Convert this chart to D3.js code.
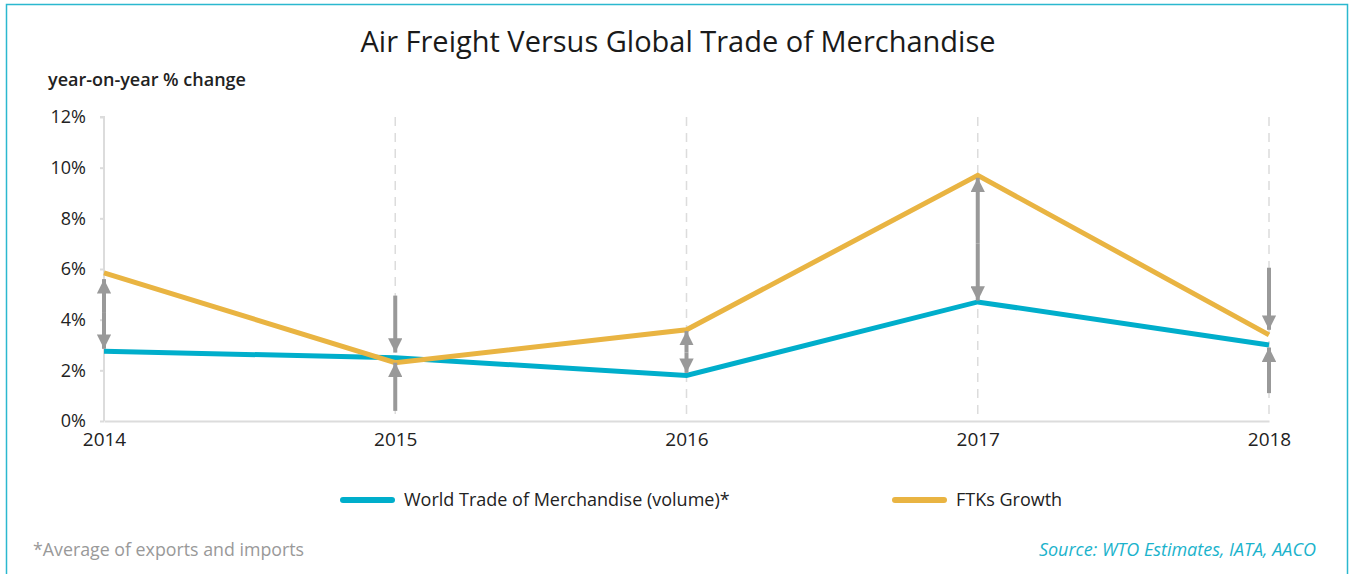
<!DOCTYPE html>
<html><head><meta charset="utf-8">
<script src="https://cdn.jsdelivr.net/npm/d3@7"></script>
<style>body{margin:0;background:#fff;}svg{display:block;font-family:"Open Sans","Noto Sans",sans-serif;}</style>
</head><body>
<svg id="c" width="1354" height="574"></svg>
<script>
const years = [2014, 2015, 2016, 2017, 2018];
const worldTrade = [2.75, 2.5, 1.8, 4.7, 3.0];
const ftks = [5.85, 2.3, 3.6, 9.7, 3.4];
const yTicks = [0, 2, 4, 6, 8, 10, 12];
// arrows: [yearIndex, from%, to%] ; drawn with head at "to"
const arrows = [
  [0, 4.3, 5.6], [0, 4.3, 2.85],
  [1, 4.95, 2.7], [1, 0.4, 2.3],
  [2, 2.7, 3.55], [2, 2.7, 1.9],
  [3, 7.0, 9.6], [3, 7.0, 4.75],
  [4, 6.05, 3.6], [4, 1.1, 2.9]
];
const colors = {trade: "#00AECB", ftk: "#E9B442", arrow: "#999999", grid: "#DCDCDC"};
const FONT = "'Open Sans', sans-serif";

const svg = d3.select("#c");
svg.append("rect").attr("x", 6.5).attr("y", 4.5).attr("width", 1341).attr("height", 600)
  .attr("fill", "none").attr("stroke", "#2BB8CF").attr("stroke-width", 1.5);

const x = d3.scalePoint().domain(years).range([104, 1269]);
const y = d3.scaleLinear().domain([0, 12]).range([421, 117]);

svg.append("text").attr("x", 678).attr("y", 52).attr("text-anchor", "middle")
  .attr("font-size", 29).attr("fill", "#1a1a1a").text("Air Freight Versus Global Trade of Merchandise");
svg.append("text").attr("x", 48).attr("y", 86).attr("font-size", 18).attr("font-weight", 600)
  .attr("fill", "#222").text("year-on-year % change");

svg.append("g").selectAll("line").data(years.slice(1)).join("line")
  .attr("x1", d => x(d)).attr("x2", d => x(d)).attr("y1", y(12)).attr("y2", y(0))
  .attr("stroke", colors.grid).attr("stroke-width", 1.5).attr("stroke-dasharray", "9,7");

const ya = svg.append("g").attr("transform", `translate(${x(2014)},0)`)
  .call(d3.axisLeft(y).tickValues(yTicks).tickFormat(d => d + "%").tickSize(4).tickPadding(14));
ya.select(".domain").attr("stroke", colors.grid).attr("stroke-width", 2).attr("d", `M-4,${y(12)}H0V${y(0)}`);
ya.selectAll(".tick line").attr("stroke", colors.grid).attr("stroke-width", 2);
ya.selectAll(".tick text").attr("font-size", 18).attr("fill", "#222").attr("font-family", FONT);

const xa = svg.append("g").attr("transform", `translate(0,${y(0)})`)
  .call(d3.axisBottom(x).tickSize(0).tickPadding(12).tickFormat(d3.format("d")));
xa.select(".domain").attr("stroke", colors.grid).attr("stroke-width", 2);
xa.selectAll(".tick text").attr("font-size", 19).attr("fill", "#222").attr("font-family", FONT);

const line = d3.line().x((d, i) => x(years[i])).y(d => y(d));
svg.append("path").datum(worldTrade).attr("d", line).attr("fill", "none")
  .attr("stroke", colors.trade).attr("stroke-width", 5);
svg.append("path").datum(ftks).attr("d", line).attr("fill", "none")
  .attr("stroke", colors.ftk).attr("stroke-width", 5);

const defs = svg.append("defs");
defs.append("marker").attr("id", "ah").attr("viewBox", "0 0 10 10").attr("refX", 10).attr("refY", 5)
  .attr("markerWidth", 3.6).attr("markerHeight", 3.6).attr("markerUnits", "strokeWidth").attr("orient", "auto")
  .append("path").attr("d", "M0,0L10,5L0,10Z").attr("fill", colors.arrow);
svg.append("g").selectAll("line").data(arrows).join("line")
  .attr("x1", d => x(years[d[0]])).attr("x2", d => x(years[d[0]]))
  .attr("y1", d => y(d[1])).attr("y2", d => y(d[2]))
  .attr("stroke", colors.arrow).attr("stroke-width", 4).attr("marker-end", "url(#ah)");

const lg = svg.append("g");
lg.append("line").attr("x1", 343).attr("x2", 392).attr("y1", 500).attr("y2", 500)
  .attr("stroke", colors.trade).attr("stroke-width", 6).attr("stroke-linecap", "round");
lg.append("text").attr("x", 404).attr("y", 506).attr("font-size", 18).attr("fill", "#222")
  .text("World Trade of Merchandise (volume)*");
lg.append("line").attr("x1", 895).attr("x2", 944).attr("y1", 500).attr("y2", 500)
  .attr("stroke", colors.ftk).attr("stroke-width", 6).attr("stroke-linecap", "round");
lg.append("text").attr("x", 956).attr("y", 506).attr("font-size", 18).attr("fill", "#222")
  .text("FTKs Growth");

svg.append("text").attr("x", 33).attr("y", 556).attr("font-size", 17.8).attr("fill", "#999")
  .text("*Average of exports and imports");
svg.append("text").attr("x", 1316).attr("y", 556).attr("text-anchor", "end").attr("font-size", 18)
  .attr("font-style", "italic").attr("fill", "#1BB3CC").text("Source: WTO Estimates, IATA, AACO");
</script>
</body></html>
